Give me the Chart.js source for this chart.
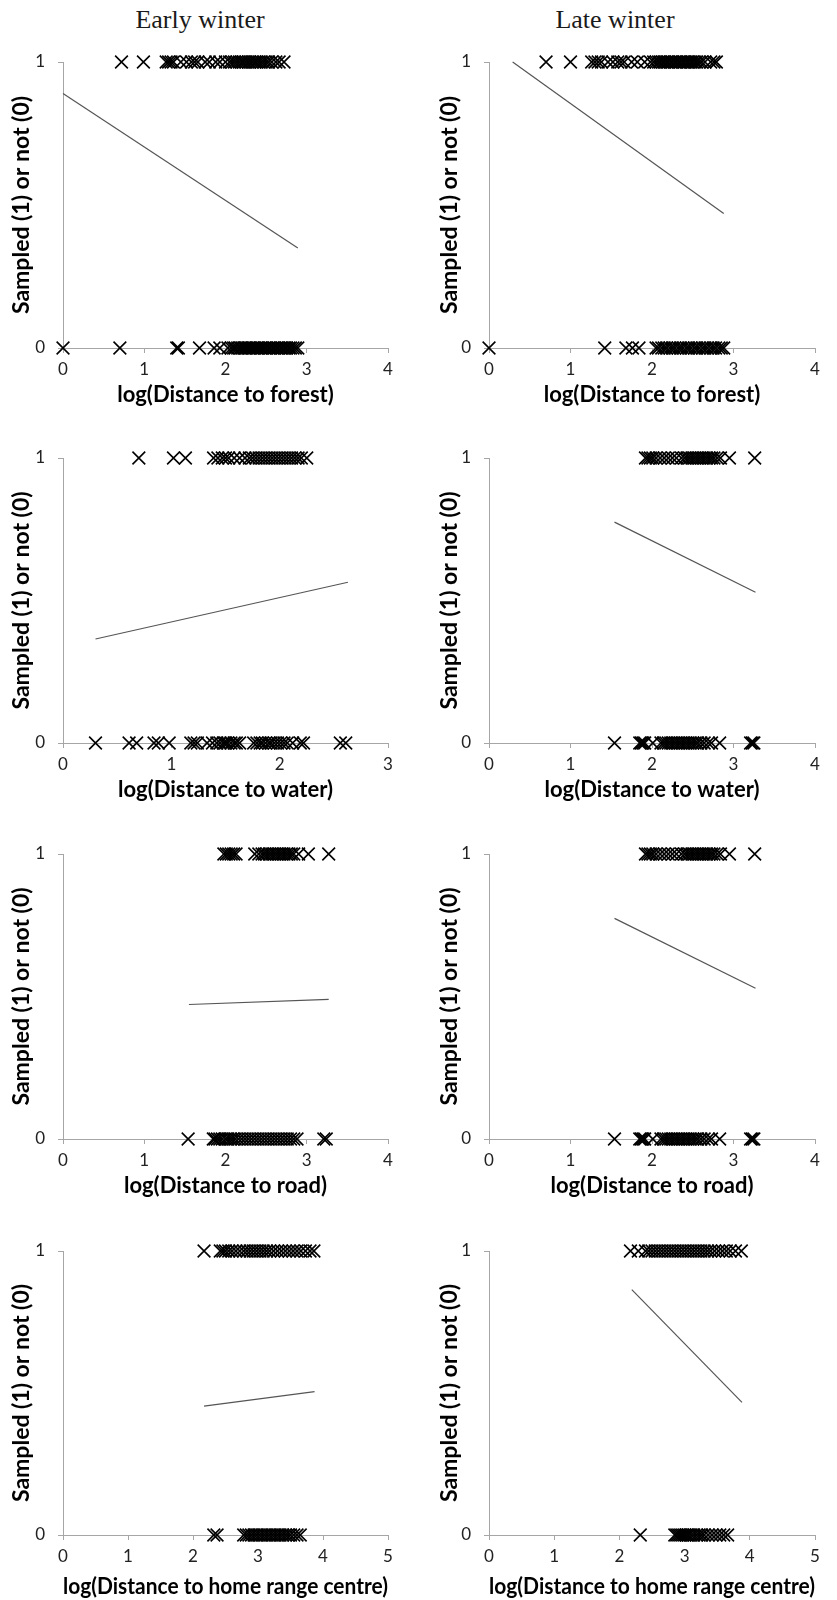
<!DOCTYPE html>
<html>
<head>
<meta charset="utf-8">
<script src="https://cdn.jsdelivr.net/npm/chart.js@4/dist/chart.umd.min.js"></script>
<style>
html,body{margin:0;padding:0;background:#fff;}
#page{position:relative;width:837px;height:1600px;overflow:hidden;background:#fff;}
canvas{position:absolute;}
.coltitle{position:absolute;top:5px;width:300px;text-align:center;line-height:30px;font-family:'Liberation Serif','Times New Roman',serif;font-size:26px;color:#1a1a1a;}
</style>
</head>
<body>
<div id="page">
  <div class="coltitle" style="left:50px">Early winter</div>
  <div class="coltitle" style="left:465px">Late winter</div>
</div>
<script>
// ---------- DATA ----------
const xTitles = ['log(Distance to forest)', 'log(Distance to water)', 'log(Distance to road)', 'log(Distance to home range centre)'];
const yTitle = 'Sampled (1) or not (0)';
const xMaxByRow = [[4, 4], [3, 4], [4, 4], [5, 5]];

// Row 1: forest
const earlyForestSampled = [0.72, 0.99, 1.27, 1.30, 1.33, 1.36, 1.45, 1.52, 1.58, 1.62, 1.66, 1.75, 1.80, 1.88, 1.93, 2.00, 2.05, 2.08, 2.11, 2.14, 2.17, 2.20, 2.22, 2.25, 2.28, 2.30, 2.33, 2.36, 2.38, 2.41, 2.44, 2.47, 2.50, 2.53, 2.57, 2.62, 2.66, 2.72];
const earlyForestNot = [0, 0.70, 1.40, 1.42, 1.68, 1.86, 1.93, 2.03, 2.07, 2.10, 2.12, 2.15, 2.18, 2.20, 2.23, 2.25, 2.28, 2.30, 2.33, 2.35, 2.38, 2.40, 2.43, 2.45, 2.48, 2.50, 2.53, 2.55, 2.58, 2.60, 2.63, 2.65, 2.68, 2.70, 2.73, 2.75, 2.78, 2.80, 2.83, 2.86, 2.89];
const earlyForestLineX = [0, 2.89];
const earlyForestLineY = [0.89, 0.35];

const lateForestSampled = [0.70, 1.00, 1.26, 1.30, 1.34, 1.38, 1.46, 1.52, 1.58, 1.62, 1.66, 1.75, 1.82, 1.91, 1.98, 2.02, 2.05, 2.08, 2.10, 2.13, 2.15, 2.18, 2.20, 2.23, 2.25, 2.28, 2.30, 2.33, 2.35, 2.38, 2.40, 2.43, 2.45, 2.48, 2.50, 2.53, 2.55, 2.58, 2.61, 2.65, 2.72, 2.76, 2.79];
const lateForestNot = [0, 1.42, 1.68, 1.76, 1.84, 2.05, 2.08, 2.12, 2.15, 2.18, 2.22, 2.25, 2.28, 2.32, 2.35, 2.38, 2.42, 2.45, 2.48, 2.52, 2.55, 2.58, 2.62, 2.65, 2.68, 2.72, 2.75, 2.78, 2.82, 2.85, 2.88];
const lateForestLineX = [0.29, 2.88];
const lateForestLineY = [1.00, 0.47];

// Row 2: water
const earlyWaterSampled = [0.70, 1.02, 1.13, 1.39, 1.43, 1.47, 1.50, 1.53, 1.58, 1.63, 1.68, 1.72, 1.75, 1.78, 1.81, 1.84, 1.87, 1.90, 1.93, 1.96, 1.99, 2.02, 2.05, 2.08, 2.11, 2.14, 2.17, 2.20, 2.25];
const earlyWaterNot = [0.30, 0.61, 0.68, 0.84, 0.88, 0.98, 1.18, 1.21, 1.24, 1.33, 1.38, 1.42, 1.45, 1.48, 1.50, 1.52, 1.55, 1.58, 1.60, 1.63, 1.76, 1.79, 1.82, 1.84, 1.87, 1.90, 1.92, 1.95, 1.98, 2.01, 2.04, 2.07, 2.12, 2.19, 2.22, 2.56, 2.61];
const earlyWaterLineX = [0.30, 2.63];
const earlyWaterLineY = [0.365, 0.564];

const lateWaterSampled = [1.92, 1.95, 1.98, 2.01, 2.05, 2.10, 2.15, 2.20, 2.25, 2.30, 2.36, 2.40, 2.43, 2.46, 2.49, 2.52, 2.55, 2.58, 2.61, 2.64, 2.67, 2.70, 2.73, 2.76, 2.80, 2.84, 2.95, 3.26];
const lateWaterNot = [1.54, 1.85, 1.87, 1.89, 1.91, 2.01, 2.11, 2.14, 2.17, 2.20, 2.23, 2.26, 2.29, 2.32, 2.35, 2.38, 2.41, 2.44, 2.47, 2.50, 2.53, 2.56, 2.60, 2.64, 2.69, 2.73, 2.83, 3.21, 3.23, 3.25];
const lateWaterLineX = [1.54, 3.27];
const lateWaterLineY = [0.775, 0.529];

// Row 3: road
const earlyRoadSampled = [1.98, 2.01, 2.04, 2.07, 2.10, 2.13, 2.36, 2.41, 2.45, 2.48, 2.51, 2.54, 2.57, 2.60, 2.63, 2.66, 2.69, 2.72, 2.75, 2.78, 2.81, 2.84, 2.90, 3.02, 3.27];
const earlyRoadNot = [1.54, 1.85, 1.87, 1.90, 1.93, 1.96, 2.00, 2.03, 2.06, 2.09, 2.12, 2.16, 2.20, 2.24, 2.28, 2.32, 2.36, 2.40, 2.44, 2.48, 2.52, 2.56, 2.60, 2.64, 2.68, 2.72, 2.76, 2.80, 2.84, 2.88, 3.21, 3.24];
const earlyRoadLineX = [1.55, 3.27];
const earlyRoadLineY = [0.472, 0.490];

const lateRoadSampled = [1.92, 1.95, 1.98, 2.01, 2.05, 2.10, 2.15, 2.20, 2.25, 2.30, 2.36, 2.40, 2.43, 2.46, 2.49, 2.52, 2.55, 2.58, 2.61, 2.64, 2.67, 2.70, 2.73, 2.76, 2.80, 2.84, 2.95, 3.26];
const lateRoadNot = [1.54, 1.85, 1.87, 1.89, 1.91, 2.01, 2.11, 2.14, 2.17, 2.20, 2.23, 2.26, 2.29, 2.32, 2.35, 2.38, 2.41, 2.44, 2.47, 2.50, 2.53, 2.56, 2.60, 2.64, 2.69, 2.73, 2.83, 3.21, 3.23, 3.25];
const lateRoadLineX = [1.54, 3.27];
const lateRoadLineY = [0.774, 0.529];

// Row 4: home range centre
const earlyHomeSampled = [2.17, 2.42, 2.46, 2.50, 2.55, 2.60, 2.66, 2.72, 2.78, 2.83, 2.88, 2.93, 2.98, 3.03, 3.08, 3.13, 3.18, 3.24, 3.30, 3.36, 3.42, 3.48, 3.54, 3.60, 3.66, 3.73, 3.80, 3.86];
const earlyHomeNot = [2.32, 2.37, 2.78, 2.82, 2.86, 2.90, 2.94, 2.98, 3.02, 3.06, 3.10, 3.14, 3.18, 3.22, 3.26, 3.30, 3.34, 3.38, 3.42, 3.46, 3.50, 3.55, 3.60, 3.65];
const earlyHomeLineX = [2.17, 3.87];
const earlyHomeLineY = [0.454, 0.505];

const lateHomeSampled = [2.17, 2.29, 2.40, 2.45, 2.50, 2.55, 2.60, 2.65, 2.70, 2.75, 2.80, 2.85, 2.90, 2.95, 3.00, 3.05, 3.10, 3.15, 3.20, 3.25, 3.30, 3.35, 3.40, 3.46, 3.52, 3.58, 3.64, 3.70, 3.78, 3.87];
const lateHomeNot = [2.32, 2.85, 2.88, 2.91, 2.94, 2.97, 3.00, 3.03, 3.06, 3.10, 3.14, 3.18, 3.22, 3.26, 3.30, 3.36, 3.42, 3.48, 3.54, 3.60, 3.66];
const lateHomeLineX = [2.19, 3.88];
const lateHomeLineY = [0.864, 0.467];

// ---------- LAYOUT ----------
const ROW_TOP = [62, 458, 854, 1251];
const ROW_BOTTOM = [348, 743, 1139, 1535];
const X_TITLE_PAD = [5.8, 5.8, 5.8, 0.8];
const COLS = [
  {left: 0, width: 418, axisW: 63, padRight: 30, yTitlePad: 8.2},
  {left: 418, width: 419, axisW: 71, padRight: 22, yTitlePad: 17.7}
];
const PAD_TOP = 32, X_AXIS_H = 66;
const AXIS_GREY = '#a6a6a6';

const panels = [
  [[earlyForestSampled, earlyForestNot, earlyForestLineX, earlyForestLineY], [lateForestSampled, lateForestNot, lateForestLineX, lateForestLineY]],
  [[earlyWaterSampled, earlyWaterNot, earlyWaterLineX, earlyWaterLineY], [lateWaterSampled, lateWaterNot, lateWaterLineX, lateWaterLineY]],
  [[earlyRoadSampled, earlyRoadNot, earlyRoadLineX, earlyRoadLineY], [lateRoadSampled, lateRoadNot, lateRoadLineX, lateRoadLineY]],
  [[earlyHomeSampled, earlyHomeNot, earlyHomeLineX, earlyHomeLineY], [lateHomeSampled, lateHomeNot, lateHomeLineX, lateHomeLineY]]
];

const page = document.getElementById('page');

function makePanel(r, c) {
  const col = COLS[c];
  const [sampled, notSampled, lineX, lineY] = panels[r][c];
  const cv = document.createElement('canvas');
  const top = ROW_TOP[r] - PAD_TOP;
  const h = (ROW_BOTTOM[r] - ROW_TOP[r]) + PAD_TOP + X_AXIS_H;
  cv.width = col.width; cv.height = h;
  cv.style.left = col.left + 'px'; cv.style.top = top + 'px';
  cv.style.width = col.width + 'px'; cv.style.height = h + 'px';
  page.appendChild(cv);

  const markerStyle = {
    pointStyle: 'crossRot', pointRadius: 9, pointHoverRadius: 9,
    pointBorderColor: '#000', pointBackgroundColor: 'rgba(0,0,0,0)',
    pointBorderWidth: 1.6, showLine: false, clip: false
  };
  const tickFont = {family: 'Lato', size: 17};
  const xTitleFont = {family: 'Lato', size: 22, weight: 'bold'};
  const yTitleFont = {family: 'Lato', size: 23, weight: 'bold'};
  const grid = {drawOnChartArea: false, drawTicks: true, tickLength: 5, tickColor: AXIS_GREY, color: AXIS_GREY};
  const border = {display: true, color: AXIS_GREY, width: 1};

  new Chart(cv, {
    type: 'scatter',
    data: {
      datasets: [
        Object.assign({data: sampled.map(x => ({x: x, y: 1}))}, markerStyle),
        Object.assign({data: notSampled.map(x => ({x: x, y: 0}))}, markerStyle),
        {data: lineX.map((x, i) => ({x: x, y: lineY[i]})), showLine: true, pointRadius: 0, pointHoverRadius: 0,
         borderColor: '#555555', borderWidth: 1.2, clip: false}
      ]
    },
    options: {
      responsive: false, animation: false, devicePixelRatio: window.devicePixelRatio || 1,
      layout: {padding: {top: PAD_TOP, left: 0, right: col.padRight, bottom: 0}},
      plugins: {legend: {display: false}, tooltip: {enabled: false}},
      events: [],
      scales: {
        x: {
          type: 'linear', min: 0, max: xMaxByRow[r][c],
          ticks: {stepSize: 1, padding: 6.8, color: '#222', font: tickFont, maxRotation: 0},
          grid: grid, border: border,
          title: {display: true, text: xTitles[r], color: '#000', font: xTitleFont, padding: {top: 0, bottom: X_TITLE_PAD[r]}},
          afterFit: s => { s.height = X_AXIS_H; }
        },
        y: {
          type: 'linear', min: 0, max: 1,
          ticks: {stepSize: 1, padding: 13, color: '#222', font: tickFont},
          grid: grid, border: border,
          title: {display: true, text: yTitle, color: '#000', font: yTitleFont, padding: {top: col.yTitlePad, bottom: 0}},
          afterFit: s => { s.width = col.axisW; }
        }
      }
    }
  });
}

for (let r = 0; r < 4; r++) for (let c = 0; c < 2; c++) makePanel(r, c);
</script>
</body>
</html>
